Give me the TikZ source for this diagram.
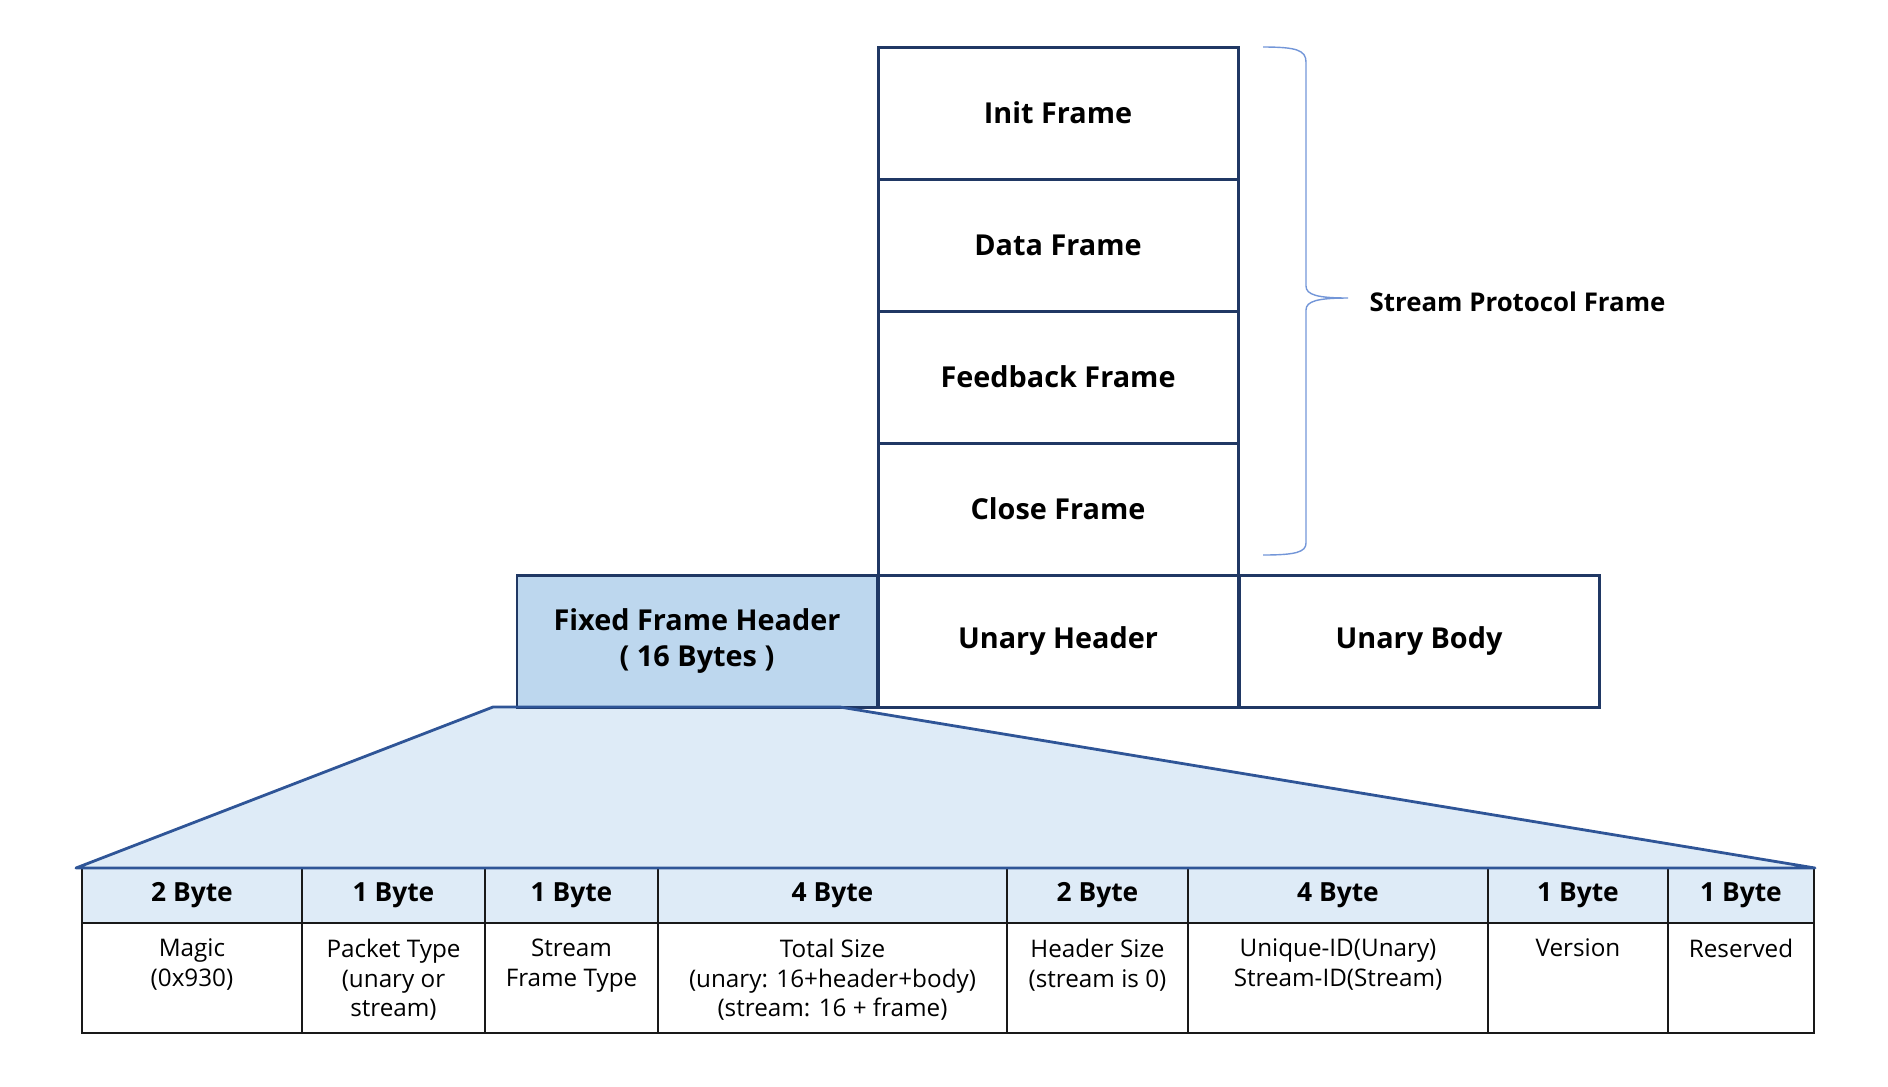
\documentclass[tikz,border=0pt]{standalone}
\usepackage{fontspec}
\setmainfont{Open Sans}
\usepackage{tikz}
\usetikzlibrary{positioning}
\definecolor{navy}{HTML}{203864}
\definecolor{zoomblue}{HTML}{2F5597}
\definecolor{hdrblue}{HTML}{BDD7EE}
\definecolor{paleblue}{HTML}{DEEBF7}
\definecolor{bracecol}{HTML}{7396D8}
\tikzstyle{frm}=[draw=navy,line width=0.85pt,minimum width=36mm,minimum height=13.2mm,inner sep=0pt,align=center,font=\fontsize{8.2}{10}\selectfont\bfseries]
\tikzstyle{cell}=[draw=black!90,line width=0.8pt]
\tikzstyle{bytes}=[inner sep=0pt,font=\fontsize{7.5}{9}\selectfont\bfseries]
\tikzstyle{desc}=[inner sep=0pt,anchor=north,align=center,font=\fontsize{6.9}{8.5}\selectfont]

\begin{document}
\begin{tikzpicture}[x=0.1mm,y=-0.1mm]
    \useasboundingbox (0,0) rectangle (1888,1086);
    % zoom wedge
    \fill[paleblue] (76,868) -- (493,707) -- (840,707) -- (1815,868) -- cycle;
    % frame column and unary row
    \foreach \n/\y/\t in {init/113/Init Frame, data/245/Data Frame, feedback/377/Feedback Frame, close/509/Close Frame}
        \node[frm] (\n) at (1058,\y) {\t};
    \node[frm,fill=hdrblue] (fixedhdr) at (697,641) {Fixed Frame Header\\( 16 Bytes )};
    \node[frm] (unaryhdr) at (1058,641) {Unary Header};
    \node[frm] (unarybody) at (1419,641) {Unary Body};
    % brace
    \coordinate (bt) at (1263,47);
    \coordinate (bb) at (1263,555);
    \coordinate (tip) at (1348,298);
    \draw[bracecol,line width=0.4pt] (bt) .. controls (1296,47) and (1306,50) .. (1306,62) -- (1306,286)
        .. controls (1306,295) and (1318,298) .. (tip) .. controls (1318,298) and (1306,301) .. (1306,310)
        -- (1306,543) .. controls (1306,552) and (1296,555) .. (bb);
    \node[anchor=west,inner sep=0pt,font=\fontsize{7.35}{9}\selectfont\bfseries] (protolabel) at (1369,302) {Stream Protocol Frame};
    % header fields
    \foreach \l/\r/\n/\b/\d in {82/302/magic/2 Byte/{Magic\\(0x930)}, 302/485/ptype/1 Byte/{Packet Type\\(unary or\\stream)},
        485/658/sftype/1 Byte/{Stream\\Frame Type}, 658/1007/tsize/4 Byte/{Total Size\\(unary: 16+header+body)\\(stream: 16 + frame)},
        1007/1188/hsize/2 Byte/{Header Size\\(stream is 0)}, 1188/1488/uid/4 Byte/{Unique-ID(Unary)\\Stream-ID(Stream)},
        1488/1668/ver/1 Byte/Version, 1668/1814/rsv/1 Byte/Reserved} {
        \draw[cell,fill=paleblue] (\l,868) rectangle (\r,923);
        \draw[cell] (\l,923) rectangle (\r,1033);
        \node[bytes] (\n-b) at ({(\l+\r)/2},895) {\b};
        \node[desc] (\n-d) at ({(\l+\r)/2},938) {\d};}
    \draw[zoomblue,line width=0.8pt,line join=round] (76,868) -- (493,707) -- (840,707) -- (1815,868) -- cycle;
\end{tikzpicture}
\end{document}
